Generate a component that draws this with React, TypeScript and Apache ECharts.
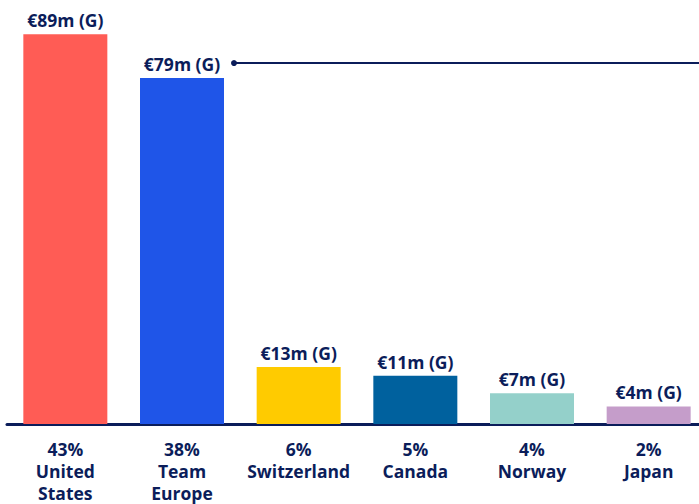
import React, { useEffect, useRef } from "react";
import * as echarts from "echarts";

const countries = ["United\nStates", "Team\nEurope", "Switzerland", "Canada", "Norway", "Japan"];
const shares = ["43%", "38%", "6%", "5%", "4%", "2%"];
const values = [89, 79, 13, 11, 7, 4];
const valueLabels = ["€89m (G)", "€79m (G)", "€13m (G)", "€11m (G)", "€7m (G)", "€4m (G)"];
const colors = ["#ff5c55", "#1f55e8", "#ffcb00", "#00619e", "#94d0ca", "#c59dca"];

const NAVY = "#0b1d5a";
const FONT = "'Open Sans', 'Noto Sans', sans-serif";

export default function App() {
  const ref = useRef<HTMLDivElement>(null);
  useEffect(() => {
    if (!ref.current) return;
    const chart = echarts.init(ref.current, undefined, { renderer: "svg" });
    const cats = countries.map((c, i) => shares[i] + "\n" + c);
    chart.setOption({
      animation: false,
      grid: { left: 7, right: 0, top: 8, bottom: 80, containLabel: false },
      xAxis: {
        type: "category",
        data: cats,
        axisLine: { show: true, lineStyle: { color: NAVY, width: 3 } },
        axisTick: { show: false },
        axisLabel: {
          interval: 0,
          margin: 14,
          color: NAVY,
          fontFamily: FONT,
          fontWeight: "bold",
          fontSize: 17.5,
          lineHeight: 22,
          align: "center",
        },
      },
      yAxis: {
        type: "value",
        min: 0,
        max: 95,
        show: false,
        splitLine: { show: false },
      },
      series: [
        {
          type: "bar",
          barWidth: 84,
          data: values.map((v, i) => ({ value: v, itemStyle: { color: colors[i] } })),
          label: {
            show: true,
            position: "top",
            distance: 5,
            color: NAVY,
            fontFamily: FONT,
            fontWeight: "bold",
            fontSize: 17.5,
            formatter: (p: any) => valueLabels[p.dataIndex],
          },
        },
      ],
    });
    const top = chart.convertToPixel({ xAxisIndex: 0, yAxisIndex: 0 }, [1, values[1]]) as number[];
    const y = top[1] - 15;
    const x0 = top[0] + 42 + 10;
    chart.setOption({
      graphic: [
        {
          type: "line",
          shape: { x1: x0, y1: y, x2: 707, y2: y },
          style: { stroke: NAVY, lineWidth: 2 },
          z: 10,
        },
        {
          type: "circle",
          shape: { cx: x0, cy: y, r: 3 },
          style: { fill: NAVY },
          z: 10,
        },
      ],
    });
    return () => chart.dispose();
  }, []);
  return (
    <div style={{ width: 699, height: 504, position: "absolute", left: 0, top: 0, overflow: "hidden" }}>
      <div ref={ref} style={{ width: 707, height: 504 }} />
    </div>
  );
}
